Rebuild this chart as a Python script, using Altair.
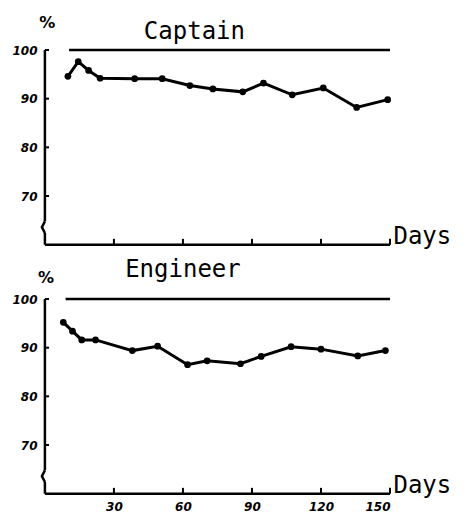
import altair as alt
import pandas as pd

# ---- data ----
captain_days = [10, 14.5, 19, 24, 39, 51, 63, 73, 86, 95, 107.5, 121, 135.5, 149]
captain_pct = [94.6, 97.6, 95.8, 94.2, 94.1, 94.1, 92.7, 92.0, 91.4, 93.2, 90.8, 92.2, 88.2, 89.8]

engineer_days = [8, 12, 16, 22, 38, 49, 62, 70.5, 85, 94, 107, 120, 136, 148]
engineer_pct = [95.2, 93.4, 91.6, 91.6, 89.4, 90.3, 86.5, 87.3, 86.7, 88.2, 90.2, 89.7, 88.3, 89.4]

x_ticks = [30, 60, 90, 120, 150]
y_ticks = [70, 80, 90, 100]
ref_level = 100
captain_ref_from = 10.5
engineer_ref_from = 9
x_end = 150
y_floor = 60

# y axis drawn in two pieces with a small kink between them (axis break)
axis_top = [100, 62.4]
axis_bottom = [64.8, 60]
break_x = [0, -1.3, 0]
break_y = [64.8, 63.6, 62.4]

TICK_FONT = "DejaVu Sans"
TITLE_FONT = "DejaVu Sans Mono"


def panel(name, days, pct, ref_from, show_x_labels, title_x, title_y, pct_x, pct_y):
    xs = alt.Scale(domain=[-3, x_end], nice=False, zero=False)
    ys = alt.Scale(domain=[58.5, ref_level], nice=False, zero=False)

    if show_x_labels:
        x_axis = alt.Axis(values=x_ticks, domain=False, ticks=False, grid=False,
                          labelFont=TICK_FONT, labelFontStyle="italic", labelFontWeight="bold",
                          labelFontSize=12, labelPadding=0, labelColor="black", title=None)
    else:
        x_axis = None
    y_axis = alt.Axis(values=y_ticks, domain=False, ticks=False, grid=False,
                      labelFont=TICK_FONT, labelFontStyle="italic", labelFontWeight="bold",
                      labelFontSize=12, labelPadding=1, labelColor="black", title=None)

    df = pd.DataFrame({"day": days, "pct": pct})
    X = alt.X("day:Q", scale=xs, axis=x_axis)
    Y = alt.Y("pct:Q", scale=ys, axis=y_axis)

    series = alt.Chart(df).mark_line(color="black", strokeWidth=3,
                                     point=alt.OverlayMarkDef(color="black", size=45, filled=True, opacity=1)
                                     ).encode(x=X, y=Y)

    ref = alt.Chart(pd.DataFrame({"day": [ref_from], "day2": [x_end], "pct": [ref_level]})).mark_rule(
        color="black", strokeWidth=2.5).encode(x=X, x2="day2:Q", y=Y)

    yline = alt.Chart(pd.DataFrame({"day": [0, 0], "pct": [axis_top[0], axis_bottom[1]],
                                    "pct2": [axis_bottom[0], axis_top[1]]})).mark_rule(
        color="black", strokeWidth=2.5).encode(x=X, y=Y, y2="pct2:Q")

    brk = alt.Chart(pd.DataFrame({"day": break_x, "pct": break_y, "i": list(range(len(break_x)))})).mark_line(
        color="black", strokeWidth=2.5).encode(x=X, y=Y, order="i:Q")

    xline = alt.Chart(pd.DataFrame({"day": [0], "day2": [x_end], "pct": [y_floor]})).mark_rule(
        color="black", strokeWidth=2.5).encode(x=X, x2="day2:Q", y=Y)

    xt = alt.Chart(pd.DataFrame({"day": x_ticks, "pct": [y_floor] * len(x_ticks),
                                 "pct2": [y_floor + 1.2] * len(x_ticks)})).mark_rule(
        color="black", strokeWidth=2).encode(x=X, y=Y, y2="pct2:Q")

    yt = alt.Chart(pd.DataFrame({"pct": y_ticks, "day": [0] * len(y_ticks),
                                 "day2": [1.8] * len(y_ticks)})).mark_rule(
        color="black", strokeWidth=2).encode(x=X, x2="day2:Q", y=Y)

    texts = pd.DataFrame({
        "day": [title_x, pct_x, x_end + 1.5],
        "pct": [title_y, pct_y, y_floor + 1.6],
        "label": [name, "%", "Days"],
    })
    title = alt.Chart(texts.iloc[[0]]).mark_text(font=TITLE_FONT, fontSize=24, align="center",
                                                 baseline="middle", color="black").encode(
        x=X, y=Y, text="label:N")
    pct_t = alt.Chart(texts.iloc[[1]]).mark_text(font=TICK_FONT, fontSize=16, fontWeight="bold",
                                                 align="center", baseline="middle", color="black").encode(
        x=X, y=Y, text="label:N")
    days_t = alt.Chart(texts.iloc[[2]]).mark_text(font=TITLE_FONT, fontSize=24, align="left",
                                                  baseline="middle", color="black").encode(
        x=X, y=Y, text="label:N")

    return alt.layer(series, ref, yline, brk, xline, xt, yt, title, pct_t, days_t).properties(
        width=352, height=202)


top = panel("Captain", captain_days, captain_pct, captain_ref_from, False, 65, 103.8, 1, 105.6)
bottom = panel("Engineer", engineer_days, engineer_pct, engineer_ref_from, True, 60, 106.0, 0.5, 104.3)

chart = alt.vconcat(top, bottom, spacing=4).properties(
    padding={"left": 3, "top": 6, "right": 0, "bottom": 0}
).configure_view(stroke="transparent")

chart.save("out.html", embed_options={"renderer": "svg", "actions": False})
